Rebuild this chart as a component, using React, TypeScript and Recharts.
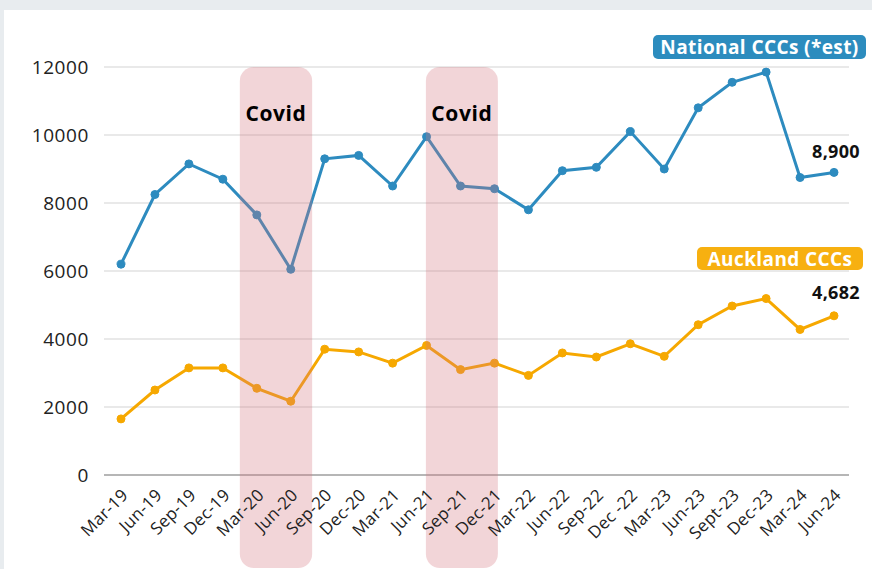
import {
  LineChart,
  Line,
  XAxis,
  YAxis,
  CartesianGrid,
  ReferenceArea,
  LabelList,
} from 'recharts'

const periods = [
  'Mar-19', 'Jun-19', 'Sep-19', 'Dec-19',
  'Mar-20', 'Jun-20', 'Sep-20', 'Dec-20',
  'Mar-21', 'Jun-21', 'Sep-21', 'Dec-21',
  'Mar-22', 'Jun-22', 'Sep-22', 'Dec -22',
  'Mar-23', 'Jun-23', 'Sept-23', 'Dec-23',
  'Mar-24', 'Jun-24',
]

const nationalCCCs = [
  6200, 8250, 9150, 8700,
  7650, 6050, 9300, 9400,
  8500, 9950, 8500, 8420,
  7800, 8950, 9050, 10100,
  9000, 10800, 11550, 11850,
  8750, 8900,
]

const aucklandCCCs = [
  1650, 2500, 3150, 3150,
  2550, 2170, 3700, 3620,
  3290, 3810, 3100, 3290,
  2930, 3590, 3470, 3860,
  3490, 4420, 4970, 5190,
  4280, 4682,
]

const yTicks = [0, 2000, 4000, 6000, 8000, 10000, 12000]

// covid periods, in index units along the x axis
const covidSpans = [
  { from: 3.5, to: 5.63 },
  { from: 8.98, to: 11.1 },
]

const data = periods.map((p, i) => ({
  i,
  period: p,
  national: nationalCCCs[i],
  auckland: aucklandCCCs[i],
}))

const lastIdx = periods.length - 1
const FONT = '"Open Sans", sans-serif'
const BLUE = '#2d8bbf'
const ORANGE = '#f6a800'

function XTick(props: any) {
  const { x, y, payload } = props
  const ax = x + 4
  const ay = y + 17
  return (
    <text
      x={ax}
      y={ay}
      dy="0.35em"
      textAnchor="end"
      transform={`rotate(-45 ${ax} ${ay})`}
      fontSize={17}
      letterSpacing={0.3}
      fill="#222"
      fontFamily={FONT}
    >
      {periods[payload.value]}
    </text>
  )
}

function endLabel(offset: number) {
  return (props: any) => {
    const { x, y, value, index } = props
    if (index !== lastIdx) return null
    return (
      <text
        x={x + 2}
        y={y - offset}
        textAnchor="middle"
        dominantBaseline="central"
        fontSize={18}
        fontWeight={700}
        letterSpacing={0.3}
        fill="#111"
        fontFamily={FONT}
      >
        {Number(value).toLocaleString('en-US')}
      </text>
    )
  }
}

function CovidBand(props: any) {
  const { x, y, width, height } = props
  return (
    <rect
      x={x}
      y={y}
      width={width}
      height={height + 93}
      rx={14}
      ry={14}
      fill="rgba(212,115,125,0.3)"
    />
  )
}

function CovidLabel(props: any) {
  const { x, y, width } = props.viewBox
  return (
    <text
      x={x + width / 2}
      y={y + 46}
      textAnchor="middle"
      dominantBaseline="central"
      fontSize={21}
      fontWeight={700}
      letterSpacing={0.6}
      fill="#000"
      fontFamily={FONT}
    >
      Covid
    </text>
  )
}

const badge = {
  position: 'absolute' as const,
  color: '#fff',
  fontFamily: FONT,
  fontWeight: 700,
  fontSize: 19,
  letterSpacing: 0.4,
  borderRadius: 5,
  display: 'flex',
  alignItems: 'center',
  justifyContent: 'center',
  whiteSpace: 'nowrap' as const,
}

export default function App() {
  return (
    <div style={{ position: 'fixed', inset: 0, background: '#e8ecef', overflow: 'hidden' }}>
      <div style={{ position: 'absolute', left: 4, top: 10, width: 880, height: 570, background: '#fff' }}>
        <LineChart
          width={868}
          height={559}
          data={data}
          margin={{ top: 57, right: 23, bottom: 14, left: 0 }}
          style={{ fontFamily: FONT }}
        >
          <CartesianGrid vertical={false} stroke="#e2e2e2" strokeWidth={1.5} />
          <XAxis
            type="number"
            dataKey="i"
            domain={[0, lastIdx]}
            ticks={periods.map((_, i) => i)}
            interval={0}
            padding={{ left: 17, right: 15 }}
            tick={<XTick />}
            tickLine={false}
            tickSize={0}
            tickMargin={0}
            height={80}
            axisLine={{ stroke: '#a5a5a5', strokeWidth: 1.5 }}
          />
          <YAxis
            domain={[0, 12000]}
            ticks={yTicks}
            width={100}
            axisLine={false}
            tickLine={false}
            tickSize={0}
            tickMargin={15}
            tick={{ fontSize: 19, fill: '#222', fontFamily: FONT, letterSpacing: 0.6 }}
          />
          <Line
            dataKey="national"
            stroke={BLUE}
            strokeWidth={3}
            dot={{ r: 4, fill: BLUE, stroke: BLUE, strokeWidth: 1 }}
            isAnimationActive={false}
          >
            <LabelList dataKey="national" content={endLabel(21)} />
          </Line>
          <Line
            dataKey="auckland"
            stroke={ORANGE}
            strokeWidth={3}
            dot={{ r: 4, fill: ORANGE, stroke: ORANGE, strokeWidth: 1 }}
            isAnimationActive={false}
          >
            <LabelList dataKey="auckland" content={endLabel(24)} />
          </Line>
          {covidSpans.map((s, k) => (
            <ReferenceArea
              key={k}
              x1={s.from}
              x2={s.to}
              y1={0}
              y2={12000}
              zIndex={1000}
              shape={<CovidBand />}
              label={<CovidLabel />}
            />
          ))}
        </LineChart>
      </div>
      <div style={{ ...badge, left: 653, top: 35, width: 213, height: 24, background: '#2c8cbe' }}>
        National CCCs (*est)
      </div>
      <div style={{ ...badge, left: 697, top: 247, width: 166, height: 23, background: '#f7b010' }}>
        Auckland CCCs
      </div>
    </div>
  )
}
